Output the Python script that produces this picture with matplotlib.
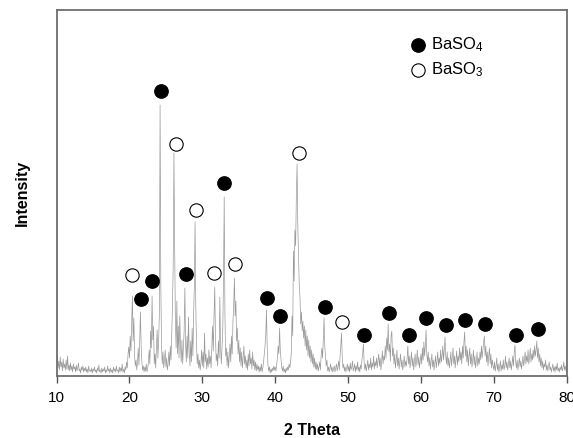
import numpy as np
import matplotlib.pyplot as plt

plt.rcParams["font.family"] = ["Liberation Sans", "DejaVu Sans"]
plt.rcParams["mathtext.default"] = "regular"

# XRD scan, 0.1 deg steps from 10 to 80 deg (intensity in a.u.)
intensity = [
    12, 22, 8, 15, 6, 19, 9, 14, 5, 17, 8, 12, 6, 16, 7, 20, 6, 11, 5, 13,          # 10
    6, 10, 4, 12, 7, 9, 4, 11, 5, 8, 13, 5, 7, 3, 9, 6, 10, 4, 8, 5,                 # 12
    9, 4, 7, 3, 10, 5, 6, 4, 8, 3, 7, 5, 9, 4, 6, 3, 8, 5, 11, 4,                    # 14
    6, 3, 8, 4, 7, 5, 9, 3, 6, 4, 10, 5, 7, 3, 8, 4, 6, 3, 9, 5,                     # 16
    7, 4, 10, 5, 6, 3, 9, 4, 8, 5, 12, 4, 7, 3, 9, 6, 14, 8, 22, 29,                 # 18
    18, 40, 25, 52, 80, 35, 58, 20, 10, 16, 6, 14, 28, 11, 34, 64, 30, 14, 6, 10,    # 20
    4, 9, 5, 12, 4, 8, 14, 26, 12, 45, 28, 80, 36, 50, 12, 22, 8, 30, 46, 18,        # 22
    35, 62, 271, 90, 30, 12, 24, 8, 16, 26, 9, 18, 6, 12, 24, 10, 30, 16, 42, 70,    # 24
    110, 223, 130, 55, 28, 75, 22, 50, 18, 60, 30, 14, 36, 12, 28, 45, 88, 32, 14, 40,  # 26
    18, 59, 24, 10, 35, 14, 48, 20, 60, 90, 154, 70, 30, 12, 22, 8, 16, 6, 12, 26,   # 28
    10, 24, 8, 43, 14, 22, 7, 18, 9, 26, 12, 20, 8, 30, 50, 25, 60, 89, 40, 15,      # 30
    22, 10, 35, 18, 79, 30, 12, 28, 45, 95, 179, 60, 20, 28, 10, 24, 8, 20, 32, 14,  # 32
    40, 22, 55, 70, 98, 60, 75, 35, 48, 22, 36, 14, 28, 10, 24, 8, 18, 30, 12, 20,   # 34
    8, 16, 6, 22, 10, 26, 12, 18, 7, 24, 10, 16, 6, 14, 5, 12, 6, 10, 4, 9,          # 36
    5, 12, 4, 8, 14, 22, 30, 40, 66, 28, 12, 5, 9, 3, 7, 4, 8, 5, 10, 6,             # 38
    9, 5, 12, 18, 30, 22, 48, 25, 16, 8, 5, 10, 4, 7, 3, 8, 5, 9, 6, 12,             # 40
    8, 14, 22, 60, 40, 125, 95, 146, 130, 180, 212, 150, 120, 90, 78, 52, 64, 45, 55, 38,  # 42
    50, 30, 46, 26, 40, 20, 36, 18, 30, 14, 26, 12, 22, 9, 18, 7, 14, 6, 12, 5,      # 44
    9, 14, 6, 20, 28, 18, 36, 58, 30, 20, 10, 16, 5, 9, 4, 8, 12, 5, 9, 4,           # 46
    7, 10, 4, 8, 12, 5, 9, 15, 6, 20, 30, 43, 18, 8, 12, 5, 9, 4, 8, 12,             # 48
    5, 10, 4, 13, 6, 9, 15, 5, 8, 12, 4, 10, 6, 14, 5, 9, 4, 11, 7, 16,              # 50
    22, 32, 14, 6, 12, 5, 10, 16, 6, 12, 8, 18, 6, 13, 9, 20, 7, 14, 10, 18,         # 52
    8, 15, 22, 10, 18, 6, 14, 25, 12, 20, 16, 30, 18, 38, 26, 52, 24, 32, 15, 40,    # 54
    45, 20, 28, 12, 22, 8, 16, 26, 10, 18, 7, 14, 22, 9, 16, 6, 12, 20, 9, 15,       # 56
    10, 18, 30, 12, 20, 8, 15, 24, 10, 18, 6, 14, 22, 9, 16, 26, 11, 19, 8, 15,      # 58
    22, 12, 28, 16, 34, 20, 30, 46, 22, 14, 24, 10, 18, 7, 14, 22, 9, 16, 6, 13,     # 60
    20, 8, 15, 24, 10, 18, 12, 26, 14, 20, 30, 16, 26, 39, 20, 12, 24, 10, 18, 8,    # 62
    15, 24, 10, 19, 28, 12, 20, 8, 16, 25, 11, 20, 14, 28, 16, 24, 12, 30, 18, 34,   # 64
    44, 20, 30, 14, 26, 10, 20, 28, 12, 22, 9, 16, 26, 11, 20, 8, 15, 24, 10, 18,    # 66
    12, 24, 16, 30, 18, 26, 34, 40, 20, 30, 14, 24, 10, 20, 28, 12, 22, 8, 16, 10,   # 68
    6, 14, 5, 10, 18, 6, 12, 4, 9, 15, 5, 11, 7, 16, 6, 10, 20, 8, 14, 6,            # 70
    12, 18, 8, 15, 6, 12, 20, 10, 24, 31, 14, 8, 16, 6, 12, 18, 9, 15, 7, 13,        # 72
    20, 10, 16, 24, 12, 20, 14, 26, 12, 18, 28, 14, 22, 16, 26, 18, 30, 20, 26, 35,  # 74
    18, 28, 14, 22, 10, 18, 8, 15, 6, 12, 9, 16, 6, 11, 5, 10, 14, 6, 9, 4,          # 76
    8, 12, 5, 9, 4, 10, 6, 13, 5, 8, 4, 9, 6, 11, 5, 8, 14, 6, 10, 5,                # 78
    7,
]
two_theta = np.linspace(10, 80, len(intensity))

# phase markers (2theta, marker height)
baso4_x = [21.6, 23.1, 24.3, 27.7, 33.0, 38.9, 40.7, 46.9, 52.2, 55.6,
           58.3, 60.7, 63.4, 66.1, 68.8, 73.0, 76.0]
baso4_y = [77, 95, 285, 102, 193, 78, 60, 69, 41, 63,
           41, 58, 51, 56, 52, 41, 47]
baso3_x = [20.3, 26.4, 29.1, 31.6, 34.5, 43.3, 49.1]
baso3_y = [101, 232, 166, 103, 112, 223, 54]

fig = plt.figure(figsize=(5.73, 4.38), dpi=100)
ax = fig.add_axes([0.0988, 0.1416, 0.8902, 0.8356])

ax.plot(two_theta, intensity, color="#9a9a9a", lw=0.5)
ax.plot(baso4_x, baso4_y, "o", ms=9.6, color="black", mec="black", ls="none")
ax.plot(baso3_x, baso3_y, "o", ms=9.6, mfc="white", mec="black", mew=0.8, ls="none")

# legend
ax.plot([0.708], [0.904], "o", ms=9.6, color="black", transform=ax.transAxes)
ax.plot([0.708], [0.836], "o", ms=9.6, mfc="white", mec="black", mew=0.8,
        transform=ax.transAxes)
ax.text(0.733, 0.904, "BaSO$_4$", transform=ax.transAxes, va="center", fontsize=12)
ax.text(0.733, 0.836, "BaSO$_3$", transform=ax.transAxes, va="center", fontsize=12)

ax.set_xlim(10, 80)
ax.set_ylim(0, 366)
ax.set_xticks(range(10, 81, 10))
ax.set_yticks([])
ax.tick_params(axis="x", direction="out", length=5, width=1, colors="#555555",
               labelcolor="black", labelsize=11, pad=6)
for s in ax.spines.values():
    s.set_color("#6e6e6e")
    s.set_linewidth(1.3)

ax.set_xlabel("2 Theta", fontsize=11.5, fontweight="bold", labelpad=13)
ax.set_ylabel("Intensity", fontsize=11.5, fontweight="bold", labelpad=19)

fig.savefig("out.png", dpi=100)
